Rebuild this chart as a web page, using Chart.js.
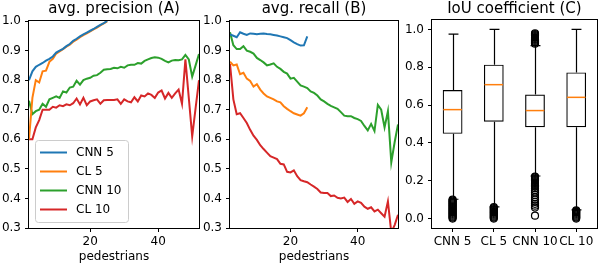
<!DOCTYPE html>
<html>
<head>
<meta charset="utf-8">
<script src="https://cdn.jsdelivr.net/npm/chart.js@4.4.1/dist/chart.umd.min.js"></script>
<style>
  html, body { margin: 0; padding: 0; background: #fff; }
  #wrap { position: relative; width: 602px; height: 268px; overflow: hidden; }
  #wrap canvas { position: absolute; top: 0; }
</style>
</head>
<body>
<div id="wrap">
  <canvas id="precChart" width="201" height="268" style="left:0"></canvas>
  <canvas id="recChart" width="199" height="268" style="left:201px"></canvas>
  <canvas id="iouChart" width="201" height="268" style="left:401px"></canvas>
</div>
<script>
// pedestrians per frame (x axis)
const ped5 = [2, 3, 4, 5, 6, 7, 8, 9, 10, 11, 12, 13, 14, 15, 16, 17, 18, 19, 20, 21, 22, 23, 24, 25];
const ped10 = [2, 3, 4, 5, 6, 7, 8, 9, 10, 11, 12, 13, 14, 15, 16, 17, 18, 19, 20, 21, 22, 23, 24, 25, 26,
  27, 28, 29, 30, 31, 32, 33, 34, 35, 36, 37, 38, 39, 40, 41, 42, 43, 44, 45, 46, 47, 48, 49, 50, 51, 52];

const seriesNames = ['CNN 5', 'CL 5', 'CNN 10', 'CL 10'];

// avg. precision (A)
const precCnn5 = [0.800, 0.830, 0.845, 0.852, 0.858, 0.866, 0.872, 0.880, 0.893, 0.900, 0.906, 0.915,
  0.922, 0.933, 0.940, 0.948, 0.955, 0.961, 0.967, 0.973, 0.980, 0.987, 0.993, 1.000];
const precCl5 = [0.600, 0.740, 0.800, 0.792, 0.830, 0.832, 0.862, 0.872, 0.890, 0.897, 0.905, 0.913,
  0.920, 0.930, 0.937, 0.945, 0.952, 0.958, 0.965, 0.972, 0.978, 0.985, 0.992, 0.999];
const precCnn10 = [0.730, 0.685, 0.695, 0.700, 0.720, 0.710, 0.735, 0.740, 0.745, 0.740,
  0.762, 0.758, 0.775, 0.778, 0.798, 0.785, 0.800, 0.805, 0.808, 0.815,
  0.817, 0.825, 0.835, 0.837, 0.838, 0.842, 0.840, 0.845, 0.842, 0.850,
  0.852, 0.852, 0.858, 0.856, 0.865, 0.870, 0.875, 0.877, 0.876, 0.872,
  0.865, 0.860, 0.866, 0.868, 0.867, 0.870, 0.885, 0.870, 0.812, 0.850, 0.888];
const precCl10 = [0.600, 0.600, 0.640, 0.665, 0.700, 0.700, 0.700, 0.710, 0.707, 0.715,
  0.712, 0.718, 0.715, 0.722, 0.738, 0.718, 0.740, 0.715, 0.728, 0.732,
  0.735, 0.720, 0.732, 0.733, 0.733, 0.733, 0.735, 0.720, 0.735, 0.728,
  0.725, 0.742, 0.728, 0.748, 0.745, 0.755, 0.750, 0.740, 0.758, 0.765,
  0.738, 0.757, 0.740, 0.755, 0.768, 0.720, 0.870, 0.740, 0.610, 0.705, 0.800];

// avg. recall (B)
const recCnn5 = [0.955, 0.950, 0.945, 0.962, 0.957, 0.953, 0.958, 0.957, 0.955, 0.957, 0.958, 0.956,
  0.955, 0.953, 0.951, 0.948, 0.945, 0.942, 0.935, 0.928, 0.922, 0.917, 0.918, 0.948];
const recCl5 = [0.862, 0.850, 0.853, 0.820, 0.825, 0.805, 0.797, 0.778, 0.786, 0.768, 0.755, 0.745,
  0.740, 0.735, 0.728, 0.725, 0.712, 0.703, 0.695, 0.688, 0.684, 0.680, 0.688, 0.708];
const recCnn10 = [0.962, 0.918, 0.905, 0.905, 0.915, 0.900, 0.896, 0.890, 0.875, 0.868,
  0.860, 0.850, 0.853, 0.857, 0.845, 0.838, 0.828, 0.822, 0.805, 0.808,
  0.795, 0.782, 0.778, 0.773, 0.762, 0.757, 0.748, 0.735, 0.728, 0.720,
  0.713, 0.708, 0.703, 0.692, 0.680, 0.678, 0.678, 0.672, 0.668, 0.662,
  0.645, 0.630, 0.652, 0.628, 0.716, 0.700, 0.640, 0.695, 0.522, 0.590, 0.650];
const recCl10 = [0.855, 0.735, 0.685, 0.688, 0.672, 0.655, 0.632, 0.612, 0.598, 0.580,
  0.567, 0.555, 0.543, 0.538, 0.533, 0.517, 0.515, 0.490, 0.488, 0.495,
  0.475, 0.462, 0.458, 0.455, 0.447, 0.440, 0.432, 0.420, 0.418, 0.418,
  0.408, 0.410, 0.402, 0.400, 0.403, 0.388, 0.398, 0.382, 0.390, 0.385,
  0.372, 0.365, 0.370, 0.356, 0.362, 0.350, 0.338, 0.390, 0.285, 0.310, 0.345];

const pedTicks = [20, 40];
const scoreTicks = [0.3, 0.4, 0.5, 0.6, 0.7, 0.8, 0.9, 1.0];

// IoU coefficient (C) box plot
const boxLabels = ['CNN 5', 'CL 5', 'CNN 10', 'CL 10'];
const boxQ1 = [0.448, 0.512, 0.483, 0.483];
const boxMedian = [0.576, 0.708, 0.571, 0.641];
const boxQ3 = [0.680, 0.814, 0.656, 0.773];
const whiskerLow = [0.102, 0.062, 0.225, 0.046];
const whiskerHigh = [0.975, 1.000, 0.915, 1.000];
const outliersCnn5 = [0.000, 0.005, 0.010, 0.015, 0.020, 0.025, 0.030, 0.035, 0.040, 0.045, 0.050,
  0.055, 0.060, 0.065, 0.070, 0.075, 0.080, 0.085, 0.090, 0.095, 0.100];
const outliersCl5 = [0.000, 0.005, 0.010, 0.015, 0.020, 0.025, 0.030, 0.035, 0.040, 0.045, 0.050,
  0.055, 0.060];
const outliersCnn10 = [0.015, 0.058, 0.068, 0.078, 0.088, 0.100, 0.112, 0.125, 0.138, 0.150, 0.160,
  0.168, 0.173, 0.178, 0.183, 0.188, 0.193, 0.198, 0.203, 0.208, 0.213, 0.218, 0.222,
  0.925, 0.930, 0.935, 0.940, 0.945, 0.950, 0.955, 0.960, 0.965, 0.970, 0.975, 0.980];
const outliersCl10 = [0.000, 0.005, 0.010, 0.015, 0.020, 0.025, 0.030, 0.035, 0.040, 0.043];
const iouTicks = [0.0, 0.2, 0.4, 0.6, 0.8, 1.0];

const colors = ['#1f77b4', '#ff7f0e', '#2ca02c', '#d62728'];

Chart.defaults.font.family = '"DejaVu Sans", sans-serif';
Chart.defaults.font.size = 12;
Chart.defaults.color = '#000';
Chart.defaults.animation = false;

// axes frame + title centred over the plot area
const framePlugin = {
  id: 'frame',
  afterDraw(chart, args, opts) {
    const ctx = chart.ctx, a = chart.chartArea;
    ctx.save();
    ctx.strokeStyle = '#000';
    ctx.lineWidth = 1;
    ctx.strokeRect(Math.round(a.left) - 0.5, Math.round(a.top) - 0.5,
      Math.round(a.right - a.left) + 1, Math.round(a.bottom - a.top) + 1);
    ctx.fillStyle = '#000';
    ctx.font = '15px "DejaVu Sans"';
    ctx.textAlign = 'center';
    ctx.textBaseline = 'alphabetic';
    ctx.fillText(opts.text, (a.left + a.right) / 2, 13);
    ctx.restore();
  }
};

// matplotlib-like legend in the lower left corner
const insideLegend = {
  id: 'insideLegend',
  afterDraw(chart, args, opts) {
    if (!opts.show) return;
    const ctx = chart.ctx, a = chart.chartArea;
    const x0 = a.left + 6, y0 = a.bottom - 88, w = 93, h = 82;
    ctx.save();
    ctx.beginPath();
    ctx.roundRect(x0 + 0.5, y0 + 0.5, w, h, 3);
    ctx.fillStyle = 'rgba(255,255,255,0.8)';
    ctx.fill();
    ctx.strokeStyle = '#cccccc';
    ctx.lineWidth = 1;
    ctx.stroke();
    ctx.font = '12px "DejaVu Sans"';
    ctx.textBaseline = 'middle';
    chart.data.datasets.forEach((ds, i) => {
      const y = y0 + 12.5 + i * 19;
      ctx.strokeStyle = ds.borderColor;
      ctx.lineWidth = 2;
      ctx.beginPath();
      ctx.moveTo(x0 + 5, y);
      ctx.lineTo(x0 + 32, y);
      ctx.stroke();
      ctx.fillStyle = '#000';
      ctx.fillText(ds.label, x0 + 41, y + 0.5);
    });
    ctx.restore();
  }
};

function lineSet(label, xs, ys, color) {
  return {
    label: label,
    data: xs.map((x, i) => ({ x: x, y: ys[i] })),
    borderColor: color,
    backgroundColor: color,
    borderWidth: 2,
    pointRadius: 0,
    tension: 0,
    fill: false,
    clip: 0
  };
}

function tickGrid() {
  return { display: true, drawOnChartArea: false, drawTicks: true, tickLength: 4, color: '#000' };
}

function makeLineChart(id, title, series, showLegend) {
  return new Chart(document.getElementById(id), {
    type: 'line',
    data: {
      datasets: [
        lineSet(seriesNames[0], ped5, series[0], colors[0]),
        lineSet(seriesNames[1], ped5, series[1], colors[1]),
        lineSet(seriesNames[2], ped10, series[2], colors[2]),
        lineSet(seriesNames[3], ped10, series[3], colors[3])
      ]
    },
    options: {
      responsive: false,
      events: [],
      layout: { padding: { top: 21, right: 2, left: 0, bottom: 0 } },
      plugins: {
        legend: { display: false },
        tooltip: { enabled: false },
        frame: { text: title },
        insideLegend: { show: showLegend }
      },
      scales: {
        x: {
          type: 'linear',
          min: 2,
          max: 52,
          afterBuildTicks: s => { s.ticks = pedTicks.map(v => ({ value: v })); },
          afterFit: s => { s.height = 40; },
          ticks: { padding: 3, maxRotation: 0 },
          grid: tickGrid(),
          border: { display: false },
          title: { display: true, text: 'pedestrians', padding: { top: 0, bottom: 4 } }
        },
        y: {
          type: 'linear',
          min: 0.3,
          max: 1.0,
          afterBuildTicks: s => { s.ticks = scoreTicks.map(v => ({ value: v })); },
          afterFit: s => { s.width = 29; },
          ticks: { padding: 4, callback: v => Number(v).toFixed(1) },
          grid: tickGrid(),
          border: { display: false }
        }
      }
    },
    plugins: [framePlugin, insideLegend]
  });
}

makeLineChart('precChart', 'avg. precision (A)', [precCnn5, precCl5, precCnn10, precCl10], true);
makeLineChart('recChart', 'avg. recall (B)', [recCnn5, recCl5, recCnn10, recCl10], false);

// whiskers, caps and medians drawn from the chart's own scales
const boxParts = {
  id: 'boxParts',
  beforeDatasetsDraw(chart) {
    const ctx = chart.ctx, ys = chart.scales.y;
    const bars = chart.getDatasetMeta(0).data;
    ctx.save();
    ctx.strokeStyle = '#000';
    ctx.lineWidth = 1.2;
    bars.forEach((bar, i) => {
      const x = Math.round(bar.x) + 0.5;
      const cap = bar.width / 4;
      [[boxQ3[i], whiskerHigh[i]], [boxQ1[i], whiskerLow[i]]].forEach(([from, to]) => {
        ctx.beginPath();
        ctx.moveTo(x, ys.getPixelForValue(from));
        ctx.lineTo(x, ys.getPixelForValue(to));
        ctx.moveTo(x - cap, ys.getPixelForValue(to));
        ctx.lineTo(x + cap, ys.getPixelForValue(to));
        ctx.stroke();
      });
    });
    ctx.restore();
  },
  afterDatasetsDraw(chart) {
    const ctx = chart.ctx, ys = chart.scales.y;
    const bars = chart.getDatasetMeta(0).data;
    ctx.save();
    ctx.strokeStyle = '#ff7f0e';
    ctx.lineWidth = 1.5;
    bars.forEach((bar, i) => {
      const y = ys.getPixelForValue(boxMedian[i]);
      ctx.beginPath();
      ctx.moveTo(bar.x - bar.width / 2 + 0.6, y);
      ctx.lineTo(bar.x + bar.width / 2 - 0.6, y);
      ctx.stroke();
    });
    ctx.restore();
  }
};

const outlierPoints = [outliersCnn5, outliersCl5, outliersCnn10, outliersCl10]
  .flatMap((vals, i) => vals.map(v => ({ x: boxLabels[i], y: v })));

new Chart(document.getElementById('iouChart'), {
  type: 'bar',
  data: {
    labels: boxLabels,
    datasets: [{
      data: boxLabels.map((_, i) => [boxQ1[i], boxQ3[i]]),
      backgroundColor: 'rgba(255,255,255,0)',
      borderColor: '#000',
      borderWidth: 1.2,
      borderSkipped: false,
      barPercentage: 0.48,
      categoryPercentage: 1.0
    }, {
      type: 'line',
      data: outlierPoints,
      showLine: false,
      pointRadius: 3.5,
      pointBorderWidth: 1.2,
      pointBorderColor: '#000',
      pointBackgroundColor: 'rgba(0,0,0,0)',
      clip: 0
    }]
  },
  options: {
    responsive: false,
    events: [],
    layout: { padding: { top: 20, right: 2, left: 0, bottom: 0 } },
    plugins: {
      legend: { display: false },
      tooltip: { enabled: false },
      frame: { text: 'IoU coefficient (C)' }
    },
    scales: {
      x: {
        type: 'category',
        offset: true,
        afterFit: s => { s.height = 40; },
        ticks: { padding: 3, autoSkip: false, maxRotation: 0, minRotation: 0 },
        grid: Object.assign(tickGrid(), { offset: false }),
        border: { display: false }
      },
      y: {
        min: -0.05,
        max: 1.05,
        afterBuildTicks: s => { s.ticks = iouTicks.map(v => ({ value: v })); },
        afterFit: s => { s.width = 31; },
        ticks: { padding: 4, callback: v => v.toFixed(1) },
        grid: tickGrid(),
        border: { display: false }
      }
    }
  },
  plugins: [framePlugin, boxParts]
});
</script>
</body>
</html>
